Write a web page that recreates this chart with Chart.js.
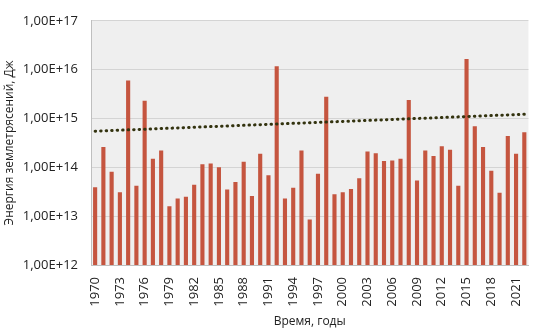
<!DOCTYPE html>
<html>
<head>
<meta charset="utf-8">
<script src="https://cdn.jsdelivr.net/npm/chart.js@4"></script>
<style>
  html, body { margin: 0; padding: 0; background: #fff; }
  #wrap { width: 544px; height: 333px; }
</style>
</head>
<body>
<div id="wrap"><canvas id="chart" width="544" height="333"></canvas></div>
<script>
const years = [];
for (let y = 1970; y <= 2022; y++) years.push(String(y));

// энергия землетрясений по годам, Дж
const energy = [
  3.9e13, 2.6e14, 8.1e13, 3.1e13, 6.0e15, 4.2e13, 2.3e15, 1.5e14, 2.2e14, 1.6e13,
  2.3e13, 2.5e13, 4.4e13, 1.15e14, 1.2e14, 1.0e14, 3.5e13, 5.0e13, 1.3e14, 2.6e13,
  1.9e14, 6.9e13, 1.18e16, 2.3e13, 3.8e13, 2.2e14, 8.5e12, 7.4e13, 2.8e15, 2.8e13,
  3.1e13, 3.6e13, 6.0e13, 2.1e14, 1.95e14, 1.35e14, 1.38e14, 1.5e14, 2.4e15, 5.4e13,
  2.2e14, 1.7e14, 2.7e14, 2.3e14, 4.2e13, 1.65e16, 6.9e14, 2.6e14, 8.5e13, 3.0e13,
  4.4e14, 1.9e14, 5.2e14
];

// экспоненциальный тренд: значения на концах
const trendStart = 5.5e14;
const trendEnd = 1.22e15;

const yTicks = [1e12, 1e13, 1e14, 1e15, 1e16, 1e17];

const trend = years.map((_, i) => i === 0 ? trendStart : (i === years.length - 1 ? trendEnd : null));

const font = "'Open Sans', 'DejaVu Sans', sans-serif";

const plotBg = {
  id: 'plotBg',
  beforeDraw(chart) {
    const { ctx, chartArea: a } = chart;
    ctx.save();
    ctx.fillStyle = '#efefef';
    ctx.fillRect(a.left, a.top, a.right - a.left, a.bottom - a.top);
    ctx.restore();
  }
};

new Chart(document.getElementById('chart'), {
  type: 'bar',
  data: {
    labels: years,
    datasets: [
      {
        type: 'line',
        data: trend,
        spanGaps: true,
        borderColor: '#33330f',
        borderWidth: 3,
        borderDash: [0.5, 5],
        borderCapStyle: 'round',
        pointRadius: 0,
        fill: false,
        order: 0
      },
      {
        data: energy,
        backgroundColor: '#c5553f',
        categoryPercentage: 1,
        barPercentage: 0.5,
        order: 1
      }
    ]
  },
  options: {
    responsive: false,
    animation: false,
    layout: { padding: { top: 8, right: 9, left: 2, bottom: 0 } },
    plugins: { legend: { display: false }, tooltip: { enabled: false } },
    scales: {
      x: {
        grid: { display: false },
        border: { color: '#bfbfbf' },
        ticks: {
          autoSkip: false,
          minRotation: 90,
          maxRotation: 90,
          color: '#222',
          font: { family: font, size: 13 },
          padding: 4,
          callback: (v, i) => (i % 3 === 0 ? years[i] : '')
        },
        title: {
          display: true,
          text: 'Время, годы',
          color: '#222',
          font: { family: font, size: 12 },
          padding: { top: 2, bottom: 4 }
        },
        afterFit: s => { s.height = 68; }
      },
      y: {
        type: 'logarithmic',
        min: 1e12,
        max: 1e17,
        afterBuildTicks: s => { s.ticks = yTicks.map(v => ({ value: v })); },
        grid: { color: '#d4d4d4', drawTicks: false },
        border: { color: '#bfbfbf' },
        ticks: {
          color: '#222',
          font: { family: font, size: 13 },
          padding: 13,
          callback: v => '1,00E+' + Math.round(Math.log10(v))
        },
        title: {
          display: true,
          text: 'Энергия землетрясений, Дж',
          color: '#222',
          font: { family: font, size: 12 },
          padding: { top: 0, bottom: 2 }
        },
        afterFit: s => { s.width = 89; }
      }
    }
  },
  plugins: [plotBg]
});
</script>
</body>
</html>
